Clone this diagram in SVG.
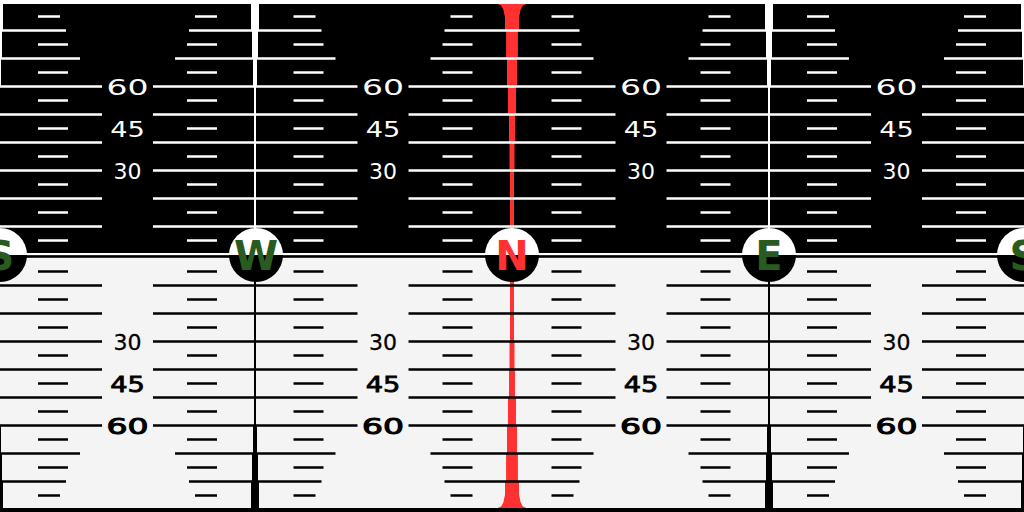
<svg xmlns="http://www.w3.org/2000/svg" xmlns:xlink="http://www.w3.org/1999/xlink" width="1024" height="512" viewBox="0 0 1024 512">
<style>
.hl{fill:none;stroke:currentColor;stroke-width:2.6}
.tk{fill:none;stroke:currentColor;stroke-width:2.4}
.vl{fill:currentColor}
.lbl{font-family:"DejaVu Sans","Liberation Sans",sans-serif;font-size:22px;text-anchor:middle}
.top{fill:#ffffff}
.bot{fill:#000000;stroke:#000000}
.ltr{font-family:"DejaVu Sans","Liberation Sans",sans-serif;font-weight:bold;font-size:40px;text-anchor:middle}
.grn{fill:#295a1f}
.red{fill:#ff3131}
.hw{fill:#ffffff}
.hb{fill:#000000}
</style>
<defs>
<g id="half">
<g id="verticals" class="vl">
<rect x="-5" y="0" width="8" height="30.5"/><rect x="-4" y="30.5" width="6" height="28"/><rect x="-3" y="58.5" width="4" height="28"/><rect x="-2" y="86.5" width="2" height="170"/>
<rect x="251" y="0" width="8" height="30.5"/><rect x="252" y="30.5" width="6" height="28"/><rect x="253" y="58.5" width="4" height="28"/><rect x="254" y="86.5" width="2" height="170"/>
<rect x="765" y="0" width="8" height="30.5"/><rect x="766" y="30.5" width="6" height="28"/><rect x="767" y="58.5" width="4" height="28"/><rect x="768" y="86.5" width="2" height="170"/>
<rect x="1021" y="0" width="8" height="30.5"/><rect x="1022" y="30.5" width="6" height="28"/><rect x="1023" y="58.5" width="4" height="28"/><rect x="1024" y="86.5" width="2" height="170"/>
</g>
<path class="hl" d="M0 226.5H102M153 226.5H357.5M408.5 226.5H615.5M666.5 226.5H871M922 226.5H1024
M0 198.5H102M153 198.5H357.5M408.5 198.5H615.5M666.5 198.5H871M922 198.5H1024
M0 170.5H102M153 170.5H357.5M408.5 170.5H615.5M666.5 170.5H871M922 170.5H1024
M0 142.5H102M153 142.5H357.5M408.5 142.5H615.5M666.5 142.5H871M922 142.5H1024
M0 114.5H102M153 114.5H357.5M408.5 114.5H615.5M666.5 114.5H871M922 114.5H1024
M0 86.5H102M153 86.5H357.5M408.5 86.5H615.5M666.5 86.5H871M922 86.5H1024
M0 58.5H80M175 58.5H335.5M430.5 58.5H593.5M688.5 58.5H849M944 58.5H1024
M0 30.5H66M189 30.5H321.5M444.5 30.5H579.5M702.5 30.5H835M958 30.5H1024"/>
<path class="tk" d="M38 240.5H68M187 240.5H217M293.5 240.5H323.5M442.5 240.5H472.5M551.5 240.5H581.5M700.5 240.5H730.5M807 240.5H837M956 240.5H986
M38 212.5H68M187 212.5H217M293.5 212.5H323.5M442.5 212.5H472.5M551.5 212.5H581.5M700.5 212.5H730.5M807 212.5H837M956 212.5H986
M38 184.5H68M187 184.5H217M293.5 184.5H323.5M442.5 184.5H472.5M551.5 184.5H581.5M700.5 184.5H730.5M807 184.5H837M956 184.5H986
M38 156.5H68M187 156.5H217M293.5 156.5H323.5M442.5 156.5H472.5M551.5 156.5H581.5M700.5 156.5H730.5M807 156.5H837M956 156.5H986
M38 128.5H68M187 128.5H217M293.5 128.5H323.5M442.5 128.5H472.5M551.5 128.5H581.5M700.5 128.5H730.5M807 128.5H837M956 128.5H986
M38 100.5H68M187 100.5H217M293.5 100.5H323.5M442.5 100.5H472.5M551.5 100.5H581.5M700.5 100.5H730.5M807 100.5H837M956 100.5H986
M38 72.5H68M187 72.5H217M293.5 72.5H323.5M442.5 72.5H472.5M551.5 72.5H581.5M700.5 72.5H730.5M807 72.5H837M956 72.5H986
M38 44.5H68M187 44.5H217M293.5 44.5H323.5M442.5 44.5H472.5M551.5 44.5H581.5M700.5 44.5H730.5M807 44.5H837M956 44.5H986
M38 16.5H60M195 16.5H217M293.5 16.5H315.5M450.5 16.5H472.5M551.5 16.5H573.5M708.5 16.5H730.5M807 16.5H829M964 16.5H986"/>
<rect class="vl" x="0" y="0" width="1024" height="4"/>
</g>
<path id="meridian" d="M497 0H527L526.5 4L524 5L522.5 6L521.5 8L520.5 10L520 13L519 17V30.5H517.9V58.5H517V86.5H516V114.5H515V142.5H514.5V170.5H514V256H510V170.5H509.5V142.5H509V114.5H508V86.5H507V58.5H506.1V30.5H505V17L504 13L503.5 10L502.5 8L501.5 6L500 5L497.5 4Z"/>
</defs>
<g id="background">
<rect x="0" y="0" width="1024" height="256" fill="#000000"/>
<rect x="0" y="256" width="1024" height="256" fill="#f4f4f4"/>
</g>
<g id="meridian-line" fill="#ff3131">
<use xlink:href="#meridian"/>
<use xlink:href="#meridian" transform="matrix(1 0 0 -1 0 512)"/>
</g>
<g id="grid">
<use xlink:href="#half" color="#ffffff"/>
<use xlink:href="#half" color="#000000" transform="matrix(1 0 0 -1 0 512)"/>
<rect x="0" y="253" width="1024" height="2.4" fill="#ffffff"/>
<rect x="0" y="255.4" width="1024" height="2.4" fill="#000000"/>
</g>
<g id="labels-top" class="lbl top">
<text transform="translate(127.5 94.5) scale(1.5 1)">60</text>
<text transform="translate(127.5 136.5) scale(1.24 1)">45</text>
<text transform="translate(127.5 178.5)">30</text>
<text transform="translate(383 94.5) scale(1.5 1)">60</text>
<text transform="translate(383 136.5) scale(1.24 1)">45</text>
<text transform="translate(383 178.5)">30</text>
<text transform="translate(641 94.5) scale(1.5 1)">60</text>
<text transform="translate(641 136.5) scale(1.24 1)">45</text>
<text transform="translate(641 178.5)">30</text>
<text transform="translate(896.5 94.5) scale(1.5 1)">60</text>
<text transform="translate(896.5 136.5) scale(1.24 1)">45</text>
<text transform="translate(896.5 178.5)">30</text>
</g>
<g id="labels-bottom" class="lbl bot">
<text transform="translate(127.5 349.5)" stroke-width="0.3">30</text>
<text transform="translate(127.5 391.5) scale(1.24 1)" stroke-width="0.8">45</text>
<text transform="translate(127.5 433.5) scale(1.5 1)" stroke-width="1">60</text>
<text transform="translate(383 349.5)" stroke-width="0.3">30</text>
<text transform="translate(383 391.5) scale(1.24 1)" stroke-width="0.8">45</text>
<text transform="translate(383 433.5) scale(1.5 1)" stroke-width="1">60</text>
<text transform="translate(641 349.5)" stroke-width="0.3">30</text>
<text transform="translate(641 391.5) scale(1.24 1)" stroke-width="0.8">45</text>
<text transform="translate(641 433.5) scale(1.5 1)" stroke-width="1">60</text>
<text transform="translate(896.5 349.5)" stroke-width="0.3">30</text>
<text transform="translate(896.5 391.5) scale(1.24 1)" stroke-width="0.8">45</text>
<text transform="translate(896.5 433.5) scale(1.5 1)" stroke-width="1">60</text>
</g>
<g id="marker-S-left">
<path class="hw" d="M-27 255A27 27 0 0 1 27 255Z"/>
<path class="hb" d="M-27 255A27 27 0 0 0 27 255Z"/>
<text class="ltr grn" x="0" y="270">S</text>
</g>
<g id="marker-W">
<path class="hw" d="M229 255A27 27 0 0 1 283 255Z"/>
<path class="hb" d="M229 255A27 27 0 0 0 283 255Z"/>
<text class="ltr grn" x="256" y="270">W</text>
</g>
<g id="marker-N">
<path class="hw" d="M485 255A27 27 0 0 1 539 255Z"/>
<path class="hb" d="M485 255A27 27 0 0 0 539 255Z"/>
<text class="ltr red" x="512" y="270">N</text>
</g>
<g id="marker-E">
<path class="hw" d="M742 255A27 27 0 0 1 796 255Z"/>
<path class="hb" d="M742 255A27 27 0 0 0 796 255Z"/>
<text class="ltr grn" x="769" y="270">E</text>
</g>
<g id="marker-S-right">
<path class="hw" d="M997 255A27 27 0 0 1 1051 255Z"/>
<path class="hb" d="M997 255A27 27 0 0 0 1051 255Z"/>
<text class="ltr grn" x="1024" y="270">S</text>
</g>
</svg>
